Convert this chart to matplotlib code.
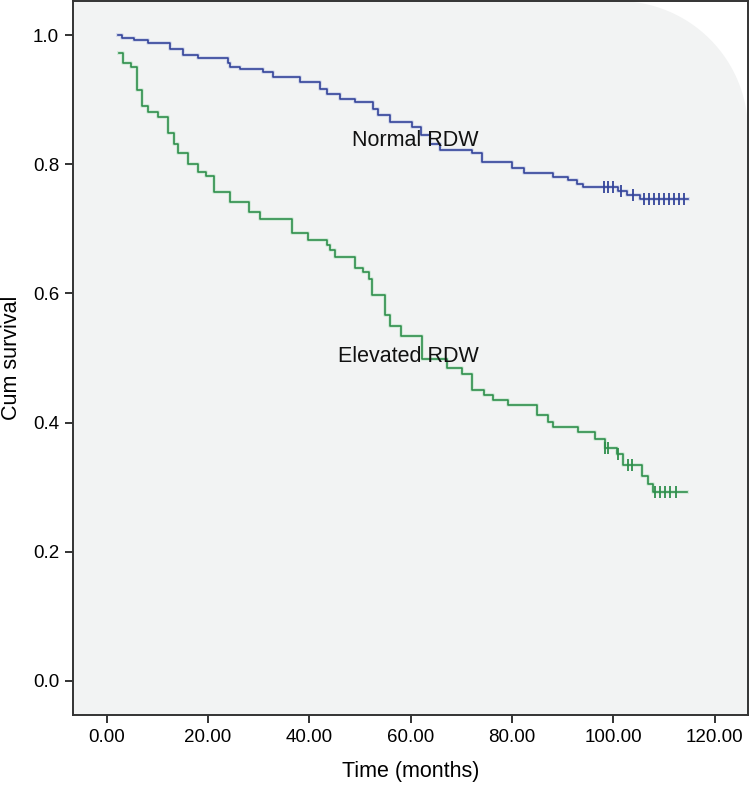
import numpy as np
import matplotlib
matplotlib.use('Agg')  # No display here.
import matplotlib.pyplot as plt
from matplotlib.patches import PathPatch
from matplotlib.path import Path

plt.rcParams['font.family'] = ['Liberation Sans', 'DejaVu Sans']

# Kaplan-Meier steps: drop time (months), survival after it.
normal_t = [2.2, 3.0, 5.3, 8.2, 12.5, 15.1, 18.1, 24.0, 24.3, 26.3, 30.9, 32.9,
            38.2, 42.1, 43.4, 46.1, 49.0, 52.6, 53.6, 55.9, 60.2, 62.0, 63.8,
            65.8, 72.1, 74.0, 80.0, 82.3, 88.2, 91.1, 92.8, 94.1, 101.0, 102.7,
            105.3]
normal_s = [1.0, 0.996, 0.993, 0.988, 0.979, 0.970, 0.965, 0.957, 0.951, 0.948,
            0.943, 0.936, 0.928, 0.917, 0.909, 0.902, 0.897, 0.885, 0.876, 0.866,
            0.858, 0.845, 0.832, 0.822, 0.817, 0.804, 0.794, 0.787, 0.780, 0.775,
            0.770, 0.765, 0.758, 0.752, 0.746]
normal_end = 114.8
normal_cens = [98.2, 99.0, 100.0, 101.6, 103.9, 106.0, 107.0, 108.0, 109.0,
               110.0, 111.0, 112.0, 113.0, 114.0]

elevated_t = [2.5, 3.2, 4.9, 5.9, 6.9, 8.2, 10.2, 12.2, 13.2, 14.1, 16.1, 18.1,
              19.7, 21.1, 24.3, 28.0, 30.3, 36.5, 39.8, 43.4, 44.1, 45.1, 49.0,
              50.7, 51.7, 52.3, 54.9, 55.9, 58.2, 62.2, 67.1, 70.1, 72.1, 74.4,
              76.3, 79.3, 84.9, 87.2, 88.2, 93.1, 96.4, 98.4, 100.7, 102.0,
              105.6, 106.9, 107.9]
elevated_s = [0.973, 0.957, 0.951, 0.915, 0.890, 0.881, 0.873, 0.848, 0.832,
              0.817, 0.800, 0.788, 0.782, 0.757, 0.742, 0.726, 0.716, 0.693,
              0.683, 0.675, 0.667, 0.657, 0.640, 0.633, 0.623, 0.597, 0.566,
              0.550, 0.534, 0.499, 0.484, 0.476, 0.450, 0.442, 0.435, 0.427,
              0.411, 0.401, 0.393, 0.385, 0.375, 0.360, 0.352, 0.334, 0.318,
              0.305, 0.292]
elevated_end = 114.5
elevated_cens = [98.4, 99.0, 100.9, 103.0, 103.7, 108.3, 109.3, 110.3, 111.3,
                 112.4]

x_ticks = [0, 20, 40, 60, 80, 100, 120]
y_ticks = [0.0, 0.2, 0.4, 0.6, 0.8, 1.0]


def draw_km(ax, t, s, end, cens, color, halo):
    t = np.asarray(t)
    s = np.asarray(s)
    xs = np.r_[t, end]
    ys = np.r_[s, s[-1]]
    ax.step(xs, ys, where='post', color=halo, lw=2.8, alpha=0.4, zorder=3)
    ax.step(xs, ys, where='post', color=color, lw=1.2, zorder=4)
    idx = np.searchsorted(t, cens, side='right') - 1
    ax.plot(cens, s[idx], ls='none', marker='|', ms=9, mew=1.3,
            color=color, zorder=5)


def rounded_background(ax, fig, color, radius_px=130):
    # Light plot area with a rounded top-right corner, as in the source.
    bbox = ax.get_position()
    w = bbox.width * fig.get_figwidth() * fig.dpi
    h = bbox.height * fig.get_figheight() * fig.dpi
    rx, ry = radius_px / w, radius_px / h
    ang = np.linspace(np.pi / 2, 0, 40)
    arc = np.c_[1 - rx + rx * np.cos(ang), 1 - ry + ry * np.sin(ang)]
    verts = np.vstack([[0, 0], [0, 1], arc, [1, 0], [0, 0]])
    codes = [Path.MOVETO] + [Path.LINETO] * (len(verts) - 2) + [Path.CLOSEPOLY]
    ax.add_patch(PathPatch(Path(verts, codes), transform=ax.transAxes,
                           facecolor=color, edgecolor='none', zorder=0))


def main():
    fig = plt.figure(figsize=(7.5, 7.9), dpi=100)
    ax = fig.add_axes([0.0973, 0.0949, 0.9, 0.9038])
    ax.set_facecolor('white')
    rounded_background(ax, fig, '#f2f3f3')

    draw_km(ax, normal_t, normal_s, normal_end, normal_cens,
            '#34449a', '#aab4e0')
    draw_km(ax, elevated_t, elevated_s, elevated_end, elevated_cens,
            '#2f8f4c', '#a6dcb4')

    ax.text(48.4, 0.837, 'Normal RDW', fontsize=15.5, color='#111111',
            va='center', ha='left', zorder=6)
    ax.text(45.7, 0.502, 'Elevated RDW', fontsize=15.5, color='#111111',
            va='center', ha='left', zorder=6)

    ax.set_xlim(-6.65, 126.6)
    ax.set_ylim(-0.053, 1.053)
    ax.set_xticks(x_ticks)
    ax.set_xticklabels([f'{v:.2f}' for v in x_ticks])
    ax.set_yticks(y_ticks)
    ax.set_yticklabels([f'{v:.1f}' for v in y_ticks])
    ax.tick_params(axis='both', direction='out', length=6, width=1.4,
                   color='#333333', labelsize=13.5, pad=4)
    for spine in ax.spines.values():
        spine.set_color('#333333')
        spine.set_linewidth(1.4)

    ax.set_xlabel('Time (months)', fontsize=15.5, labelpad=11)
    ax.set_ylabel('Cum survival', fontsize=15.5, labelpad=8)

    fig.savefig('out.png', dpi=100)


if __name__ == '__main__':
    main()
